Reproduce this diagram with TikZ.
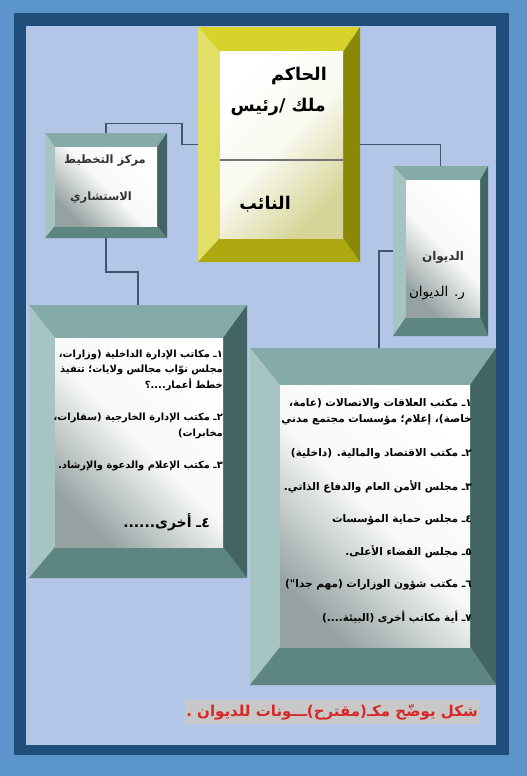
\documentclass[tikz,border=0pt]{standalone}
\usepackage{fontspec}
\usetikzlibrary{positioning, calc}
\newfontfamily\arabicfont[Script=Arabic]{DejaVu Sans}
\TeXXeTstate=1
\definecolor{outerblue}{RGB}{91,149,204}
\definecolor{navy}{RGB}{31,78,122}
\definecolor{panel}{RGB}{180,198,231}
\definecolor{goldT}{RGB}{214,211,44}
\definecolor{goldL}{RGB}{226,223,102}
\definecolor{goldR}{RGB}{138,137,5}
\definecolor{goldB}{RGB}{173,168,15}
\definecolor{goldS}{RGB}{214,212,150}
\definecolor{tealT}{RGB}{133,171,168}
\definecolor{tealL}{RGB}{165,196,194}
\definecolor{tealR}{RGB}{66,101,99}
\definecolor{tealB}{RGB}{93,133,129}
\definecolor{tealS}{RGB}{150,162,162}
\definecolor{linkgray}{RGB}{68,84,106}
\definecolor{capred}{RGB}{214,40,40}
\definecolor{capgray}{RGB}{200,200,200}
\tikzstyle{boxframe} = [rectangle, inner sep=0pt, outer sep=0pt]
\tikzstyle{goldface} = [top color=white, bottom color=goldS, middle color=white!85!goldS, shading angle=45]
\tikzstyle{tealface} = [top color=white, bottom color=tealS, middle color=white!92!tealS, shading angle=-45]
\tikzstyle{link} = [draw=linkgray, line width=1.2pt]
\tikzstyle{title} = [font=\arabicfont\bfseries\fontsize{17.5}{20}\selectfont, inner sep=0pt, anchor=east]
\tikzstyle{smalltitle} = [font=\arabicfont\bfseries\fontsize{11.5}{14}\selectfont, inner sep=0pt, text=black!80]
\tikzstyle{listitem} = [font=\arabicfont\bfseries\fontsize{10.5}{15.5}\selectfont, align=right, inner sep=0pt, anchor=east]
\tikzstyle{leftitem} = [listitem, font=\arabicfont\bfseries\fontsize{9.9}{15.5}\selectfont]
\newcommand{\bevelbox}[6]{%
  \fill[#6T] (#1.north west) -- (#1.north east) -- ([xshift=-#4pt,yshift=-#3pt]#1.north east) -- ([xshift=#2pt,yshift=-#3pt]#1.north west) -- cycle;
  \fill[#6L] (#1.north west) -- ([xshift=#2pt,yshift=-#3pt]#1.north west) -- ([xshift=#2pt,yshift=#5pt]#1.south west) -- (#1.south west) -- cycle;
  \fill[#6R] (#1.north east) -- ([xshift=-#4pt,yshift=-#3pt]#1.north east) -- ([xshift=-#4pt,yshift=#5pt]#1.south east) -- (#1.south east) -- cycle;
  \fill[#6B] (#1.south west) -- ([xshift=#2pt,yshift=#5pt]#1.south west) -- ([xshift=-#4pt,yshift=#5pt]#1.south east) -- (#1.south east) -- cycle;
  \shade[#6face] ([xshift=#2pt,yshift=-#3pt]#1.north west) rectangle ([xshift=-#4pt,yshift=#5pt]#1.south east);
}
\begin{document}
\begin{tikzpicture}[x=1pt, y=-1pt]
\useasboundingbox (0,0) rectangle (527,776);
\fill[outerblue] (0,0) rectangle (527,776);
\fill[navy] (14,13) rectangle (509,755);
\fill[panel] (26,26) rectangle (496,745);

\node (hakim) [boxframe, minimum width=162pt, minimum height=235pt] at (279,144.5) {};
\node (markaz) [boxframe, minimum width=122pt, minimum height=105pt] at (106,185.5) {};
\node (diwan) [boxframe, minimum width=95pt, minimum height=170pt] at (440.5,251) {};
\node (leftbox) [boxframe, minimum width=218pt, minimum height=273pt] at (138,441.5) {};
\node (rightbox) [boxframe, minimum width=246pt, minimum height=337pt] at (373,516.5) {};

\draw[link] (hakim.west) -- ++(-16,0) -- ++(0,-21) -| (markaz.north);
\draw[link] (markaz.south) -- ++(0,34) -| (leftbox.north);
\draw[link] (hakim.east) -| (diwan.north);
\draw[link] (diwan.west) -| ([xshift=6pt]rightbox.north);

\bevelbox{hakim}{22}{25}{17}{24}{gold}
\bevelbox{markaz}{10}{14}{10}{12}{teal}
\bevelbox{diwan}{13}{14}{8}{19}{teal}
\bevelbox{leftbox}{26}{33}{24}{31}{teal}
\bevelbox{rightbox}{30}{37}{26}{38}{teal}
\draw[black!55, line width=1.5pt] (220,160) -- (343,160);

\node (hakimname) [title] at (327,76) {\beginR الحاكم\endR};
\node (hakimrole) [title] at (326,107) {\beginR ملك /رئيس\endR};
\node (naib) [title] at (291,204) {\beginR النائب\endR};

\node (markazone) [smalltitle] at (105,161) {\beginR مركز التخطيط\endR};
\node (markaztwo) [smalltitle] at (101,198) {\beginR الاستشاري\endR};

\node (diwanname) [smalltitle, font=\arabicfont\bfseries\fontsize{12}{14}\selectfont] at (443,257) {\beginR الديوان\endR};
\node (diwanhead) [smalltitle, text=black, font=\arabicfont\fontsize{13.5}{16}\selectfont] at (437,293) {\beginR ر. الديوان\endR};

\node (leftone) [leftitem] at (223,370) {\beginR ١ـ مكاتب الإدارة الداخلية (وزارات،\endR\\\beginR مجلس نوّاب مجالس ولايات؛ تنفيذ\endR\\\beginR خطط أعمار....؟\endR};
\node (lefttwo) [leftitem] at (223,426) {\beginR ٢ـ مكتب الإدارة الخارجية (سفارات،\endR\\\beginR مخابرات)\endR};
\node (leftthree) [leftitem] at (223,466) {\beginR ٣ـ مكتب الإعلام والدعوة والإرشاد.\endR};
\node (leftfour) [listitem, font=\arabicfont\bfseries\fontsize{14}{16}\selectfont] at (210,522) {\beginR ٤ـ أخرى......\endR};

\node (rightone) [listitem] at (472,412) {\beginR ١ـ مكتب العلاقات والاتصالات (عامة،\endR\\\beginR خاصة)، إعلام؛ مؤسسات مجتمع مدني\endR};
\node (righttwo) [listitem] at (472,454) {\beginR ٢ـ مكتب الاقتصاد والمالية. (داخلية)\endR};
\node (rightthree) [listitem] at (472,487) {\beginR ٣ـ مجلس الأمن العام والدفاع الذاتي.\endR};
\node (rightfour) [listitem] at (472,520) {\beginR ٤ـ مجلس حماية المؤسسات\endR};
\node (rightfive) [listitem] at (472,552) {\beginR ٥ـ مجلس القضاء الأعلى.\endR};
\node (rightsix) [listitem] at (472,585) {\beginR ٦ـ مكتب شؤون الوزارات (مهم جدا")\endR};
\node (rightseven) [listitem] at (472,618) {\beginR ٧ـ أية مكاتب أخرى (البيئة....)\endR};

\node (caption) [anchor=east, fill=capgray, inner xsep=1pt, inner ysep=4pt, text=capred, font=\arabicfont\bfseries\fontsize{15}{18}\selectfont] at (479,712) {\beginR شكل يوضّح مكـ(مقترح)ـــونات للديوان .\endR};
\end{tikzpicture}
\end{document}
